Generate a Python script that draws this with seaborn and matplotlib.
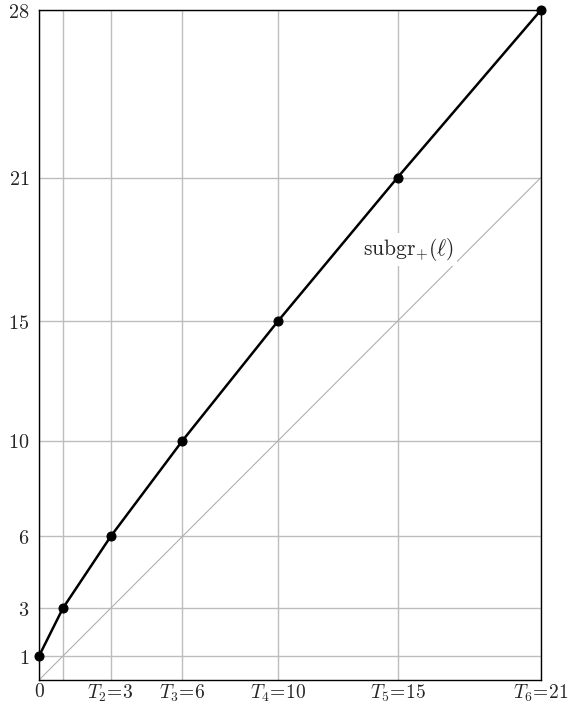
import matplotlib
matplotlib.use("Agg")
import matplotlib.pyplot as plt
import seaborn as sns

# data
x_vals = [0, 1, 3, 6, 10, 15, 21]
y_vals = [1, 3, 6, 10, 15, 21, 28]
diag_x = [0, 21]
diag_y = [0, 21]

x_ticks = [0, 1, 3, 6, 10, 15, 21]
x_labels = ["$0$", "", "$T_2\\!=\\!3$", "$T_3\\!=\\!6$", "$T_4\\!=\\!10$", "$T_5\\!=\\!15$", "$T_6\\!=\\!21$"]
y_ticks = [1, 3, 6, 10, 15, 21, 28]

sns.set_style("white")
plt.rcParams["mathtext.fontset"] = "cm"
plt.rcParams["font.family"] = ["DejaVu Serif"]

fig = plt.figure(figsize=(5.68, 7.08), dpi=100)
ax = fig.add_axes([39 / 568, 28 / 708, 502 / 568, 670 / 708])

ax.grid(True, color="#bdbdbd", lw=1.0)
ax.set_axisbelow(True)

sns.lineplot(x=diag_x, y=diag_y, color="#b0b0b0", lw=0.8, ax=ax)
sns.lineplot(x=x_vals, y=y_vals, color="black", lw=1.8, marker="o",
             markersize=6.5, markeredgecolor="black", ax=ax, clip_on=False, zorder=5)

ax.text(15.45, 18.0, r"$\mathrm{subgr}_{+}(\ell)$", fontsize=15.5, ha="center", va="center",
        bbox=dict(facecolor="white", edgecolor="none", pad=2))

ax.set_xlim(0, 21)
ax.set_ylim(0, 28)
ax.set_xticks(x_ticks)
ax.set_xticklabels(x_labels, fontsize=14)
ax.set_yticks(y_ticks)
ax.set_yticklabels([f"${v}$" for v in y_ticks], fontsize=14.5)
ax.tick_params(axis="x", length=0, pad=2)
ax.tick_params(axis="y", length=0, pad=7)
for s in ax.spines.values():
    s.set_color("black")
    s.set_linewidth(1.0)

fig.savefig("out.png", dpi=100)
